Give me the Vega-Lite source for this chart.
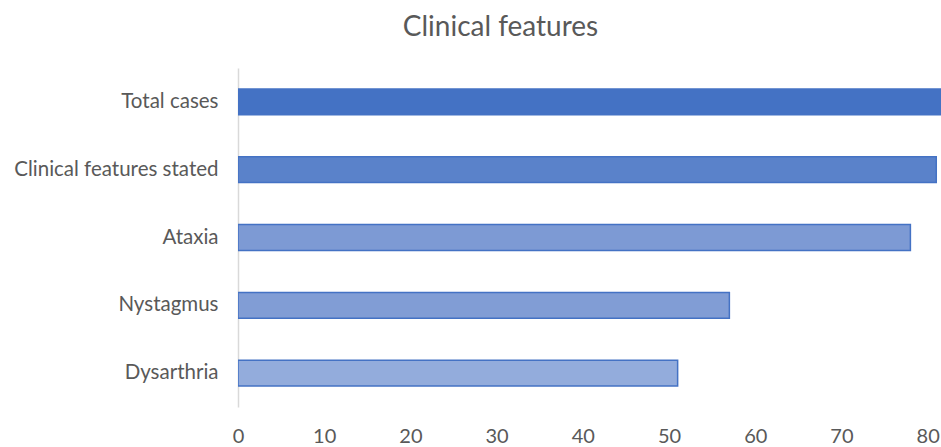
{
  "$schema": "https://vega.github.io/schema/vega-lite/v6.json",
  "autosize": "none",
  "width": 703,
  "height": 339,
  "padding": {"left": 238, "top": 68, "right": 0, "bottom": 40},
  "background": "white",
  "title": {
    "text": "Clinical features",
    "font": "Lato",
    "fontSize": 28,
    "fontWeight": "normal",
    "color": "#595959",
    "anchor": "middle",
    "dx": -89,
    "offset": 26
  },
  "data": {
    "values": [
      {"feature": "Total cases", "count": 85, "fillc": "#4472C4"},
      {"feature": "Clinical features stated", "count": 81, "fillc": "#5A82CA"},
      {"feature": "Ataxia", "count": 78, "fillc": "#7D9AD4"},
      {"feature": "Nystagmus", "count": 57, "fillc": "#819DD5"},
      {"feature": "Dysarthria", "count": 51, "fillc": "#93ACDC"}
    ]
  },
  "mark": {"type": "bar", "clip": true, "stroke": "#4472C4", "strokeWidth": 1.5},
  "encoding": {
    "y": {
      "field": "feature",
      "type": "nominal",
      "sort": null,
      "scale": {"paddingInner": 0.62, "paddingOuter": 0.31},
      "axis": {
        "title": null,
        "ticks": false,
        "labelPadding": 20,
        "labelFont": "Lato",
        "labelFontSize": 20.5,
        "labelColor": "#595959",
        "labelLimit": 300,
        "domainColor": "#D9D9D9",
        "domainWidth": 1.5,
        "grid": false
      }
    },
    "x": {
      "field": "count",
      "type": "quantitative",
      "scale": {"domain": [0, 81.55], "nice": false},
      "axis": {
        "title": null,
        "values": [0, 10, 20, 30, 40, 50, 60, 70, 80],
        "ticks": false,
        "domain": false,
        "grid": false,
        "labelPadding": 19,
        "labelFont": "Lato",
        "labelFontSize": 20,
        "labelColor": "#595959",
        "labelFlush": false
      }
    },
    "fill": {"field": "fillc", "type": "nominal", "scale": null}
  },
  "config": {"view": {"stroke": null}}
}
